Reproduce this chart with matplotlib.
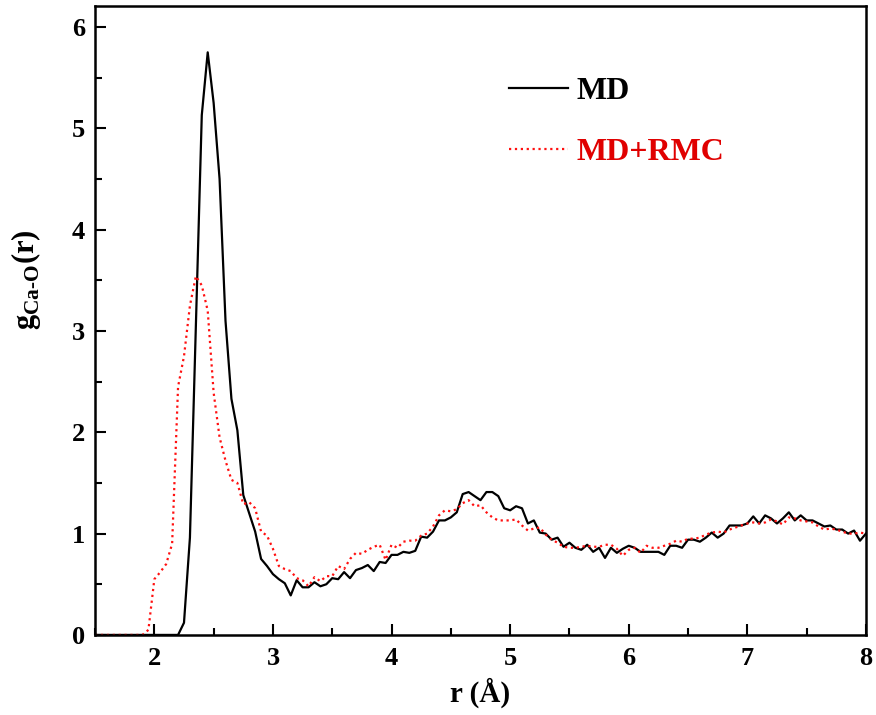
import numpy as np
import matplotlib
matplotlib.use("Agg")
import matplotlib.pyplot as plt
from matplotlib.ticker import MultipleLocator

plt.rcParams['font.family'] = ['Liberation Serif', 'DejaVu Serif']
plt.rcParams['font.weight'] = 'bold'
plt.rcParams['mathtext.fontset'] = 'custom'
plt.rcParams['mathtext.rm'] = 'Liberation Serif:bold'
plt.rcParams['mathtext.bf'] = 'Liberation Serif:bold'

# r grid (Å), sampled every 0.05 from 1.5 to 8.0
r = np.round(np.arange(1.5, 8.0001, 0.05), 2)

# g_Ca-O(r), MD
g_md = [0.0] * 14 + [
    0.00, 0.12, 0.96, 3.05, 5.13, 5.75, 5.25, 4.50, 3.10, 2.33,
    2.02, 1.38, 1.20, 1.02, 0.75, 0.68, 0.60, 0.55, 0.51, 0.39,
    0.54, 0.47, 0.47, 0.52, 0.48, 0.50, 0.56, 0.55, 0.62, 0.56,
    0.64, 0.66, 0.69, 0.63, 0.72, 0.71, 0.79, 0.79, 0.82, 0.81,
    0.83, 0.97, 0.96, 1.02, 1.13, 1.13, 1.16, 1.21, 1.39, 1.41,
    1.37, 1.33, 1.41, 1.41, 1.37, 1.25, 1.23, 1.27, 1.25, 1.10,
    1.13, 1.01, 1.00, 0.94, 0.96, 0.87, 0.91, 0.86, 0.84, 0.89,
    0.82, 0.86, 0.76, 0.86, 0.81, 0.85, 0.88, 0.86, 0.82, 0.82,
    0.82, 0.82, 0.79, 0.88, 0.88, 0.86, 0.94, 0.94, 0.92, 0.96,
    1.01, 0.96, 1.00, 1.08, 1.08, 1.08, 1.10, 1.17, 1.10, 1.18,
    1.15, 1.10, 1.15, 1.21, 1.13, 1.18, 1.13, 1.13, 1.10, 1.07,
    1.08, 1.04, 1.04, 1.00, 1.03, 0.93, 1.00,
]

# g_Ca-O(r), MD+RMC
g_rmc = [0.0] * 9 + [
    0.05, 0.55, 0.62, 0.70, 0.90, 2.45, 2.75, 3.25, 3.54, 3.45,
    3.20, 2.39, 1.95, 1.72, 1.53, 1.50, 1.29, 1.31, 1.25, 1.02,
    0.98, 0.85, 0.68, 0.65, 0.63, 0.56, 0.54, 0.48, 0.57, 0.53,
    0.58, 0.58, 0.68, 0.65, 0.75, 0.81, 0.80, 0.84, 0.87, 0.89,
    0.74, 0.89, 0.86, 0.92, 0.93, 0.93, 0.98, 1.00, 1.07, 1.18,
    1.23, 1.22, 1.24, 1.30, 1.33, 1.27, 1.28, 1.21, 1.16, 1.13,
    1.13, 1.13, 1.14, 1.08, 1.03, 1.05, 1.06, 0.99, 0.94, 0.91,
    0.87, 0.86, 0.86, 0.87, 0.88, 0.87, 0.87, 0.89, 0.89, 0.85,
    0.78, 0.84, 0.86, 0.81, 0.88, 0.86, 0.86, 0.88, 0.90, 0.93,
    0.92, 0.95, 0.95, 0.96, 0.99, 1.01, 1.02, 1.01, 1.04, 1.06,
    1.08, 1.10, 1.11, 1.10, 1.11, 1.14, 1.12, 1.09, 1.16, 1.15,
    1.13, 1.12, 1.11, 1.07, 1.04, 1.05, 1.04, 1.02, 1.00, 1.00,
    1.01, 1.00,
]

fig = plt.figure(figsize=(8.76, 7.15), dpi=100)
ax = fig.add_axes([0.1085, 0.112, 0.880, 0.880])

ax.plot(r, g_md, color='black', lw=1.6, label='MD')
ax.plot(r, g_rmc, color='#ff1010', lw=1.6, ls=':', label='MD+RMC')

ax.set_xlim(1.5, 8)
ax.set_ylim(0, 6.21)
ax.xaxis.set_major_locator(MultipleLocator(1))
ax.xaxis.set_minor_locator(MultipleLocator(0.5))
ax.yaxis.set_major_locator(MultipleLocator(1))
ax.yaxis.set_minor_locator(MultipleLocator(0.5))
ax.tick_params(which='both', direction='in', top=False, right=False, width=1.5)
ax.tick_params(which='major', length=8, labelsize=19)
ax.tick_params(axis='x', which='major', pad=9)
ax.tick_params(axis='y', which='major', pad=7)
ax.tick_params(which='minor', length=5)
for s in ax.spines.values():
    s.set_linewidth(1.8)

ax.set_xlabel('r (Å)', fontsize=21, fontweight='bold')
ax.xaxis.set_label_coords(0.5, -0.068)
ax.set_ylabel(r'g$_{\text{Ca-O}}$(r)', fontsize=22, fontweight='bold')
ax.yaxis.set_label_coords(-0.068, 0.565)

leg = ax.legend(loc='upper left', bbox_to_anchor=(0.50, 0.933), frameon=False,
                handlelength=1.85, handletextpad=0.25, labelspacing=1.0,
                prop={'weight': 'bold', 'size': 23})
leg.get_texts()[0].set_color('black')
leg.get_texts()[1].set_color('#e00000')

fig.savefig('out.png', dpi=100)
